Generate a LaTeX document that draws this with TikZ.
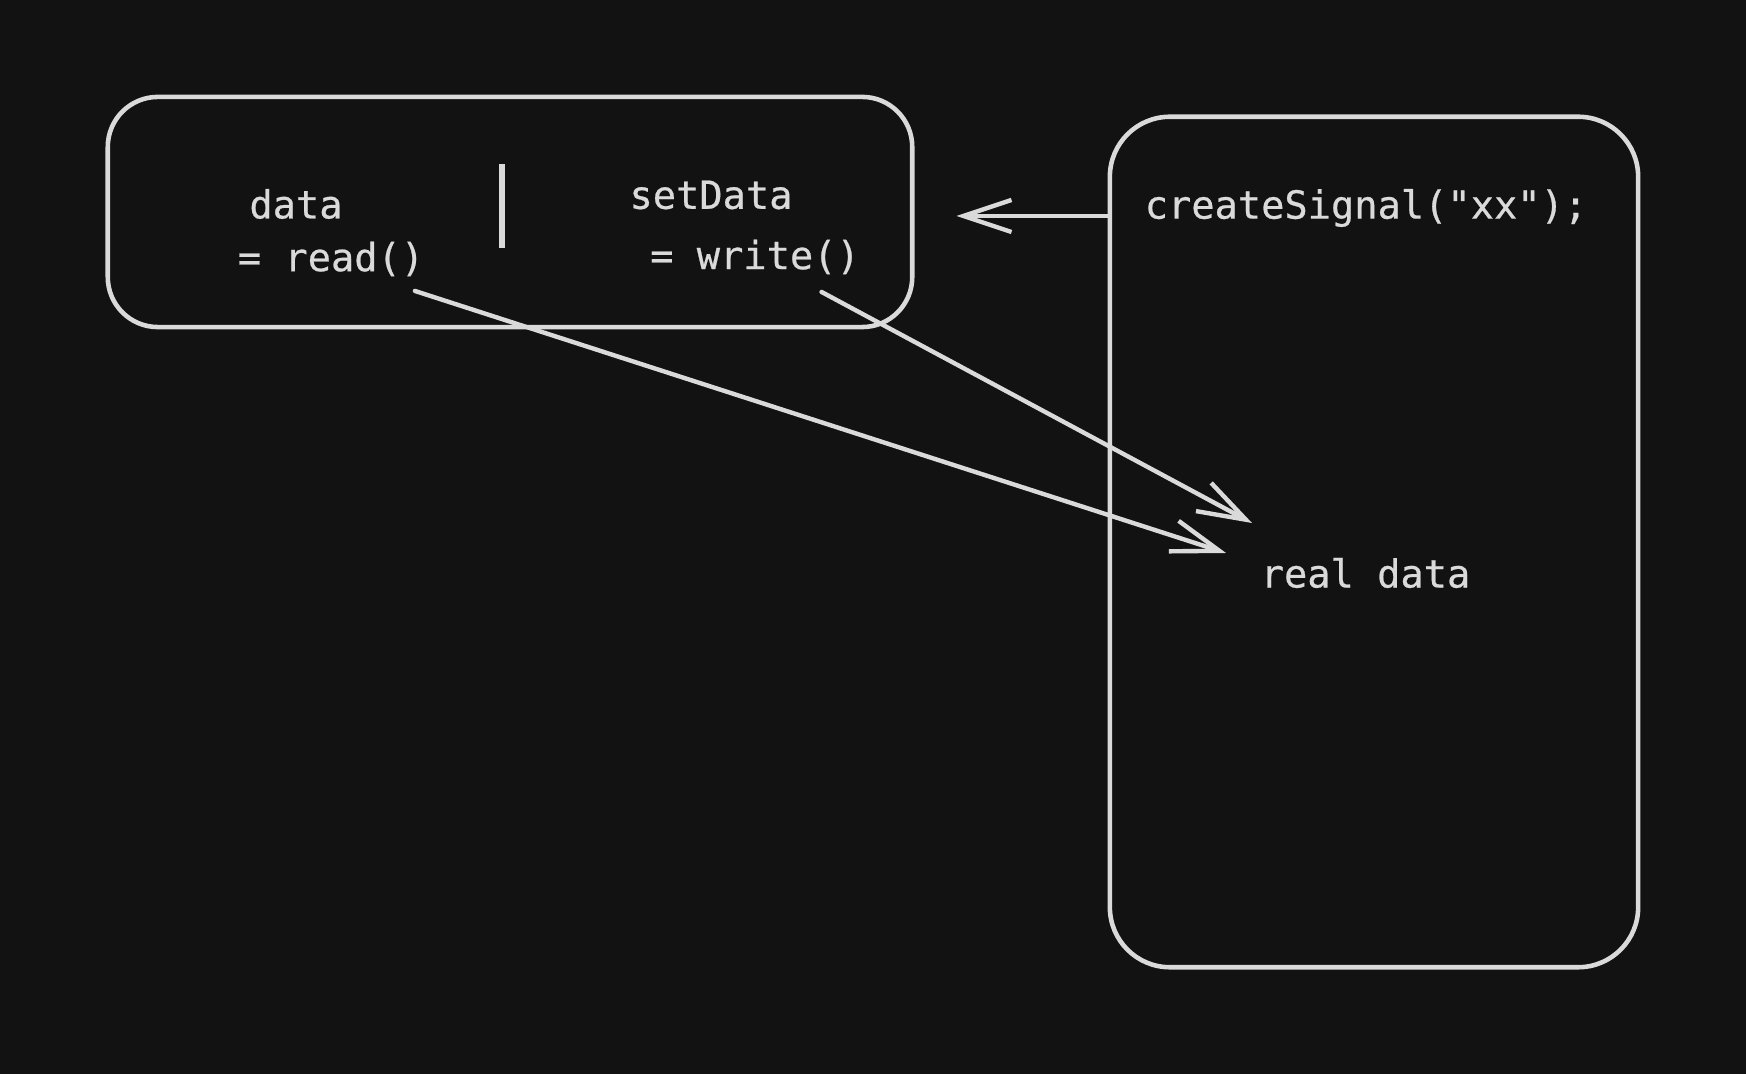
\documentclass[tikz,border=0pt]{standalone}
\usepackage{fontspec}
\setmonofont[FakeBold=0.6]{DejaVu Sans Mono}
\usetikzlibrary{calc,arrows.meta}
\definecolor{boardBg}{RGB}{18,18,18}
\definecolor{chalkInk}{RGB}{218,218,218}

\begin{document}
\begin{tikzpicture}[x=0.01cm,y=-0.01cm,
  frame/.style={draw=chalkInk,line width=1.3pt,rounded corners=#1,inner sep=0pt},
  code/.style={text=chalkInk,inner sep=0pt,font=\ttfamily\fontsize{11}{13}\selectfont},
  arr/.style={draw=chalkInk,line width=1.25pt,line cap=round,
              -{Straight Barb[length=0.48cm,width=0.32cm,line width=1.25pt]}}]
\path[fill=boardBg] (0,0) rectangle (1746,1074);
% the two boxes
\node[frame=0.5cm,minimum width=8.04cm,minimum height=2.30cm] (pair) at (510,212) {};
\node[frame=0.6cm,minimum width=5.28cm,minimum height=8.50cm] (signal) at (1374,542) {};
\draw[chalkInk,line width=1.6pt] (502,164) -- (502,248);
% texts
\node[code] (data) at (296,204) {data};
\node[code] (read) at (331,259) {= read()};
\node[code] (setdata) at (711,195) {setData};
\node[code] (write) at (755,257) {= write()};
\node[code,anchor=west] (create) at (1144,208) {createSignal("xx");};
\node[code,anchor=west] (real) at (1260,573) {real data};
% arrows
\coordinate (gettip) at ([shift={(42,8)}]pair.east |- create.west);
\draw[arr] (signal.west |- gettip) -- (gettip);
\draw[arr] ([shift={(-10,14)}]read.south east) -- ([shift={(-34,-20)}]real.west);
\draw[arr] ([shift={(-39,17)}]write.south east) -- ([shift={(-8,-50)}]real.west);
\end{tikzpicture}
\end{document}
